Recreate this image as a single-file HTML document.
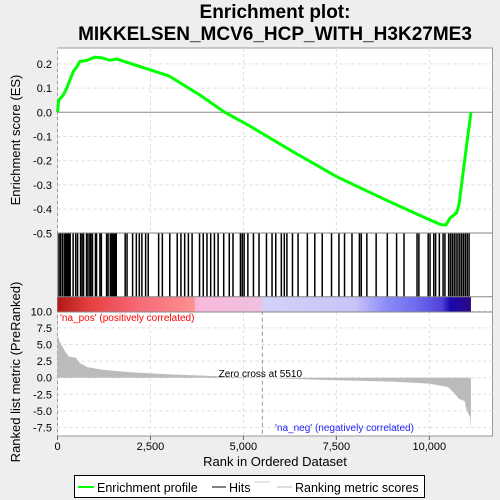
<!DOCTYPE html>
<html><head><meta charset="utf-8"><style>
body{margin:0;background:#eeeeee;}
svg{display:block;font-family:"Liberation Sans",sans-serif;}
</style></head><body>
<svg id="c" width="500" height="500">
<defs>
<linearGradient id="cb" x1="0" x2="1" y1="0" y2="0">
<stop offset="0" stop-color="#b01818"/><stop offset="0.08" stop-color="#e84040"/><stop offset="0.2" stop-color="#f86a7a"/><stop offset="0.33" stop-color="#fc9090"/><stop offset="0.335" stop-color="#f8b8dc"/><stop offset="0.49" stop-color="#f0c0e0"/><stop offset="0.5" stop-color="#d2d2f8"/><stop offset="0.72" stop-color="#c8c4f8"/><stop offset="0.8" stop-color="#8888f8"/><stop offset="0.86" stop-color="#7070f0"/><stop offset="0.93" stop-color="#5040d8"/><stop offset="0.95" stop-color="#1808b0"/><stop offset="1" stop-color="#300880"/>
</linearGradient></defs>
<text x="275" y="18" text-anchor="middle" font-size="19" font-weight="bold">Enrichment plot:</text>
<text x="275" y="40" text-anchor="middle" font-size="19" font-weight="bold">MIKKELSEN_MCV6_HCP_WITH_H3K27ME3</text>
<rect x="57.5" y="48" width="435" height="388" fill="#fff" stroke="#999"/>
<g id="grid"></g>
<g id="marks"></g>
<line x1="57.5" y1="233" x2="492.5" y2="233" stroke="#888"/>
<line x1="57.5" y1="296.7" x2="492.5" y2="296.7" stroke="#888"/>
<line x1="57.5" y1="312" x2="492.5" y2="312" stroke="#888"/>
<text x="20" y="140" font-size="13" text-anchor="middle" transform="rotate(-90 20 140)">Enrichment score (ES)</text>
<text x="20" y="372" font-size="13" text-anchor="middle" transform="rotate(-90 20 372)">Ranked list metric (PreRanked)</text>
<text x="275" y="466" font-size="13" text-anchor="middle">Rank in Ordered Dataset</text>
<text x="60" y="321" font-size="10" fill="#f00">'na_pos' (positively correlated)</text>
<text x="275" y="431" font-size="10" fill="#22f">'na_neg' (negatively correlated)</text>
<g>
<rect x="74.5" y="475.5" width="350" height="22" fill="#fff" stroke="#000"/>
<line x1="78" y1="487" x2="94" y2="487" stroke="#0f0" stroke-width="2"/>
<text x="97" y="492" font-size="12.5">Enrichment profile</text>
<line x1="212" y1="487" x2="226" y2="487" stroke="#000"/>
<text x="229" y="492" font-size="12.5">Hits</text>
<line x1="254" y1="482" x2="270" y2="482" stroke="#ccc"/>
<line x1="277" y1="487" x2="292" y2="487" stroke="#bbb"/>
<text x="295" y="492" font-size="12.5">Ranking metric scores</text>
</g>
</svg>
<script>
const esRanks=[0,30,150,250,350,430,530,600,800,1000,1200,1400,1600,2000,2500,3000,3835,4500,5177,6300,7510,8800,10020,10330,10450,10557,10737,10800,10950,11120];
const esValues=[0,0.05,0.07,0.1,0.14,0.17,0.19,0.21,0.215,0.228,0.225,0.215,0.22,0.2,0.175,0.15,0.071,0.0,-0.057,-0.16,-0.266,-0.36,-0.445,-0.465,-0.465,-0.437,-0.415,-0.38,-0.2,0];
const hitRanks=[20,60,110,160,200,230,260,290,320,400,470,520,600,640,680,760,800,850,880,920,1000,1030,1120,1160,1300,1340,1400,1440,1480,1520,1560,1800,1850,2000,2100,2180,2250,2350,2420,2700,2800,3000,3200,3300,3400,3500,3600,3800,3900,4000,4100,4200,4300,4450,4600,4700,4900,4950,5000,5100,5250,5400,5600,5750,5850,6000,6080,6150,6300,6450,6700,6900,7100,7350,7550,7700,7900,8100,8150,8300,8550,8850,9100,9300,9650,9700,9950,10000,10100,10150,10250,10350,10400,10500,10550,10600,10650,10700,10750,10800,10850,10900,10950,11000,11050];
const metricRanks=[0,50,200,300,500,600,800,1200,2000,3000,4000,5510,7000,9000,10000,10500,10700,10800,10950,11000,11100,11120];
const metricValues=[6.5,5.5,4,3.2,3,2.2,1.6,1.2,0.8,0.5,0.3,0,-0.3,-0.6,-0.9,-1.4,-2.5,-3.2,-3.5,-4.8,-6,-8];
const esTicks=[0.2,0.1,0.0,-0.1,-0.2,-0.3,-0.4,-0.5];
const metricTicks=[10.0,7.5,5.0,2.5,0.0,-2.5,-5.0,-7.5];
const xTicks=[0,2500,5000,7500,10000];
const xTickLabels=["0","2,500","5,000","7,500","10,000"];
const NS="http://www.w3.org/2000/svg";
const X=r=>57.5+r*0.03718;
const YE=v=>112.3-v*242;
const YM=v=>377.7-v*6.64;
function mk(tag,attrs,parent,txt){const e=document.createElementNS(NS,tag);for(const k in attrs)e.setAttribute(k,attrs[k]);if(txt!==undefined)e.textContent=txt;parent.appendChild(e);return e;}
const svg=document.getElementById('c'),grid=document.getElementById('grid'),marks=document.getElementById('marks');
xTicks.forEach((t,i)=>{
 mk('line',{x1:X(t),x2:X(t),y1:48,y2:233,stroke:'#ddd','stroke-dasharray':'3,3'},grid);
 mk('line',{x1:X(t),x2:X(t),y1:312,y2:436,stroke:'#ddd','stroke-dasharray':'3,3'},grid);
 mk('line',{x1:X(t),x2:X(t),y1:436,y2:440,stroke:'#666'},grid);
 const tl=mk('text',{x:X(t),y:450,'font-size':11,'text-anchor':'middle'},svg,xTickLabels[i]);
 
 
});
esTicks.forEach(t=>{
 mk('line',{x1:57.5,x2:492.5,y1:YE(t),y2:YE(t),stroke:t===0?'#888':'#ddd','stroke-dasharray':t===0?'':'3,3'},grid);
 const tl=mk('text',{x:52,y:YE(t)+4,'font-size':11,'text-anchor':'end'},svg,t.toFixed(1));
 
 
});
metricTicks.forEach(t=>{
 mk('line',{x1:57.5,x2:492.5,y1:YM(t),y2:YM(t),stroke:'#ddd','stroke-dasharray':'3,3'},grid);
 const tl=mk('text',{x:52,y:YM(t)+4,'font-size':11,'text-anchor':'end'},svg,t.toFixed(1));
 
 
});
let d='M'+X(metricRanks[0])+','+YM(0);
metricRanks.forEach((r,i)=>{d+=' L'+X(r)+','+YM(metricValues[i]);});
d+=' L'+X(metricRanks[metricRanks.length-1])+','+YM(0)+' Z';
const area=mk('path',{d:d,fill:'#bbb'},marks);


const zc=mk('line',{x1:X(5510),x2:X(5510),y1:296.7,y2:436,stroke:'#999','stroke-dasharray':'4,3'},marks);


const zt=mk('text',{x:X(5510)-2,y:377,'font-size':10,'text-anchor':'middle'},marks,'Zero cross at 5510');


const cb=mk('rect',{x:X(0),y:297,width:X(11120)-X(0),height:14.5,fill:'url(#cb)'},marks);


hitRanks.forEach(r=>{
 const l=mk('rect',{x:X(r),y:233,width:1.5,height:63.7,fill:'#000'},marks);
 
 
});
const pts=esRanks.map((r,i)=>X(r)+','+YE(esValues[i])).join(' ');
const es=mk('polyline',{points:pts,fill:'none',stroke:'#0f0','stroke-width':3},marks);


</script>
</body></html>
